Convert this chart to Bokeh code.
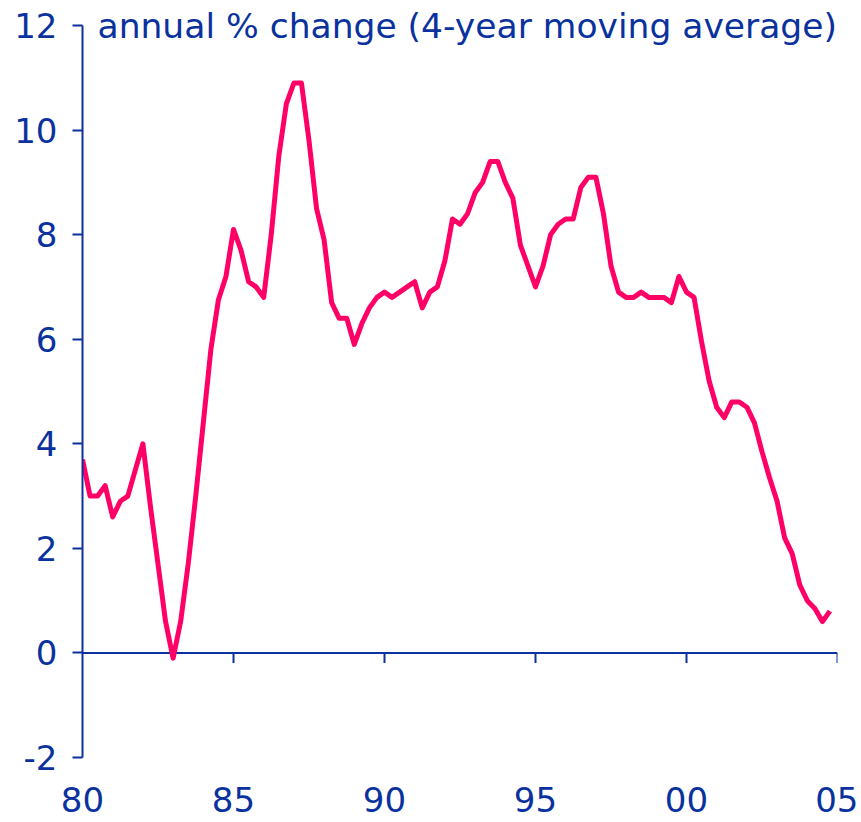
from bokeh.plotting import figure
from bokeh.models import Range1d, FixedTicker, Label
from bokeh.embed import file_html
from bokeh.resources import INLINE

# Quarterly data, 1980Q1 - 2004Q4 (annual % change, 4-year moving average)
start_year = 1980
values = [
    3.7, 3.0, 3.0, 3.2,      # 1980
    2.6, 2.9, 3.0, 3.5,      # 1981
    4.0, 2.8, 1.7, 0.6,      # 1982
    -0.1, 0.6, 1.7, 3.0,     # 1983
    4.4, 5.8, 6.75, 7.2,     # 1984
    8.1, 7.7, 7.1, 7.0,      # 1985
    6.8, 8.0, 9.5, 10.5,     # 1986
    10.9, 10.9, 9.8, 8.5,    # 1987
    7.9, 6.7, 6.4, 6.4,      # 1988
    5.9, 6.3, 6.6, 6.8,      # 1989
    6.9, 6.8, 6.9, 7.0,      # 1990
    7.1, 6.6, 6.9, 7.0,      # 1991
    7.5, 8.3, 8.2, 8.4,      # 1992
    8.8, 9.0, 9.4, 9.4,      # 1993
    9.0, 8.7, 7.8, 7.4,      # 1994
    7.0, 7.4, 8.0, 8.2,      # 1995
    8.3, 8.3, 8.9, 9.1,      # 1996
    9.1, 8.4, 7.4, 6.9,      # 1997
    6.8, 6.8, 6.9, 6.8,      # 1998
    6.8, 6.8, 6.7, 7.2,      # 1999
    6.9, 6.8, 5.95, 5.2,     # 2000
    4.7, 4.5, 4.8, 4.8,      # 2001
    4.7, 4.4, 3.85, 3.35,    # 2002
    2.9, 2.2, 1.9, 1.3,      # 2003
    1.0, 0.85, 0.6, 0.8,     # 2004
]
dates = [start_year + i * 0.25 for i in range(len(values))]

x_ticks = [1980, 1985, 1990, 1995, 2000, 2005]
x_tick_labels = ["80", "85", "90", "95", "00", "05"]
y_ticks = [-2, 0, 2, 4, 6, 8, 10, 12]
title_text = "annual % change (4-year moving average)"

BLUE = "#0a329e"
PINK = "#ff0066"
FONT = "DejaVu Sans"
FS = "34px"

# layout (pixels)
LEFT = 82            # x of 1980 (frame left)
FRAME_W = 755        # 1980 -> 2005
RIGHT = 21
Y_TOP_PX = 25        # y of 12
Y_BOT_PX = 757       # y of -2
FRAME_H = 760
BOTTOM = 62

xmin, xmax = x_ticks[0], x_ticks[-1]
ymin, ymax = y_ticks[0], y_ticks[-1]
px_per_y = (Y_BOT_PX - Y_TOP_PX) / (ymax - ymin)
y_end = ymax + Y_TOP_PX / px_per_y
y_start = ymin - (FRAME_H - Y_BOT_PX) / px_per_y

p = figure(frame_width=FRAME_W, frame_height=FRAME_H, output_backend="svg",
           toolbar_location=None,
           x_range=Range1d(xmin, xmax), y_range=Range1d(y_start, y_end),
           min_border_left=LEFT, min_border_right=RIGHT, min_border_top=0,
           min_border_bottom=BOTTOM)
p.outline_line_color = None
p.grid.visible = False
p.background_fill_color = "white"
p.border_fill_color = "white"

xax = p.xaxis[0]
xax.ticker = FixedTicker(ticks=x_ticks)
xax.major_label_overrides = dict(zip(x_ticks, x_tick_labels))
xax.axis_line_color = None
xax.major_tick_line_color = None
xax.minor_tick_line_color = None
xax.major_tick_in = 0
xax.major_tick_out = 0
xax.major_label_standoff = 26
xax.major_label_text_color = BLUE
xax.major_label_text_font = FONT
xax.major_label_text_font_size = FS

yax = p.yaxis[0]
yax.bounds = (ymin, ymax)
yax.ticker = FixedTicker(ticks=y_ticks)
yax.major_label_overrides = {t: str(t) for t in y_ticks}
yax.minor_tick_line_color = None
yax.major_tick_in = 0
yax.major_tick_out = 10
yax.major_tick_line_color = BLUE
yax.major_tick_line_width = 2
yax.axis_line_color = BLUE
yax.axis_line_width = 2
yax.major_label_text_color = BLUE
yax.major_label_text_font = FONT
yax.major_label_text_font_size = FS
yax.major_label_standoff = 15

# zero line with downward ticks
p.segment(x0=[xmin], y0=[0], x1=[xmax], y1=[0], line_color=BLUE, line_width=2)
tick_x = x_ticks[1:]
p.segment(x0=tick_x, y0=[0] * len(tick_x), x1=tick_x,
          y1=[-10 / px_per_y] * len(tick_x), line_color=BLUE, line_width=2)

p.line(dates, values, line_color=PINK, line_width=5, line_join="round")

px_per_x = FRAME_W / (xmax - xmin)
p.add_layout(Label(x=xmin + 15 / px_per_x, y=ymax, text=title_text,
                   text_align="left", text_baseline="middle", text_color=BLUE,
                   text_font=FONT, text_font_size="34.5px"))

open("out.html", "w").write(file_html(p, INLINE))
